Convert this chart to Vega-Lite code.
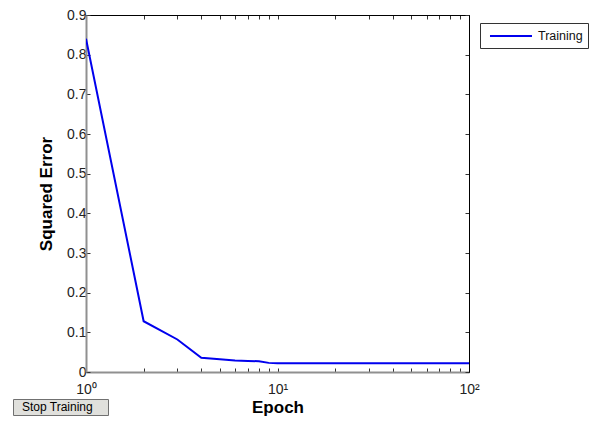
{
  "$schema": "https://vega.github.io/schema/vega-lite/v6.json",
  "autosize": "none",
  "width": 383,
  "height": 357,
  "padding": {"left": 86, "top": 15, "right": 122, "bottom": 49},
  "background": "white",
  "config": {
    "font": "Liberation Sans",
    "view": {"stroke": "black", "strokeWidth": 1}
  },
  "data": {
    "values": [
      {"epoch": 1, "error": 0.84},
      {"epoch": 2, "error": 0.128},
      {"epoch": 3, "error": 0.082},
      {"epoch": 4, "error": 0.036},
      {"epoch": 5, "error": 0.032},
      {"epoch": 6, "error": 0.029},
      {"epoch": 7, "error": 0.028},
      {"epoch": 8, "error": 0.027},
      {"epoch": 9, "error": 0.023},
      {"epoch": 10, "error": 0.022},
      {"epoch": 20, "error": 0.022},
      {"epoch": 50, "error": 0.022},
      {"epoch": 100, "error": 0.022}
    ]
  },
  "layer": [
    {
      "mark": {"type": "line", "strokeWidth": 2, "clip": true},
      "encoding": {
        "x": {
          "field": "epoch",
          "type": "quantitative",
          "scale": {"type": "log", "domain": [1, 100], "nice": false},
          "axis": {
            "orient": "bottom",
            "values": [1, 2, 3, 4, 5, 6, 7, 8, 9, 10, 20, 30, 40, 50, 60, 70, 80, 90, 100],
            "labelExpr": "datum.value == 1 ? '10⁰' : datum.value == 10 ? '10¹' : datum.value == 100 ? '10²' : ''",
            "labelFontSize": 14,
            "labelColor": "#222222",
            "labelPadding": 14,
            "labelFlush": false,
            "tickSize": -4,
            "tickColor": "#333333",
            "domainColor": "#909090",
            "domainWidth": 2,
            "grid": false,
            "title": "Epoch",
            "titleFontSize": 17,
            "titleFontWeight": "bold",
            "titleColor": "black",
            "titlePadding": 3
          }
        },
        "y": {
          "field": "error",
          "type": "quantitative",
          "scale": {"domain": [0, 0.9], "nice": false, "zero": false},
          "axis": {
            "orient": "left",
            "values": [0, 0.1, 0.2, 0.3, 0.4, 0.5, 0.6, 0.7, 0.8, 0.9],
            "labelExpr": "datum.value == 0 ? '0' : format(datum.value, '.1f')",
            "labelFontSize": 14,
            "labelColor": "#222222",
            "labelPadding": 4,
            "labelFlush": false,
            "tickSize": -4,
            "tickColor": "#333333",
            "domainColor": "#909090",
            "domainWidth": 2,
            "grid": false,
            "title": "Squared Error",
            "titleFontSize": 17,
            "titleFontWeight": "bold",
            "titleColor": "black",
            "titlePadding": 11
          }
        },
        "color": {
          "datum": "Training",
          "scale": {"range": ["#0000ee"]},
          "legend": {
            "orient": "none",
            "legendX": 394,
            "legendY": 8,
            "title": null,
            "symbolType": "M-0.43,0H5.57",
            "symbolSize": 196,
            "symbolStrokeWidth": 2,
            "labelFontSize": 12.5,
            "labelColor": "#111111",
            "labelOffset": 37,
            "padding": 5,
            "fillColor": "white",
            "strokeColor": "#333333"
          }
        }
      }
    },
    {
      "mark": {"type": "point", "opacity": 0},
      "encoding": {
        "x": {
          "field": "epoch",
          "type": "quantitative",
          "axis": {
            "orient": "top",
            "values": [1, 2, 3, 4, 5, 6, 7, 8, 9, 10, 20, 30, 40, 50, 60, 70, 80, 90, 100],
            "labels": false,
            "tickSize": -4,
            "tickColor": "#333333",
            "domainColor": "black",
            "grid": false,
            "title": null
          }
        },
        "y": {
          "field": "error",
          "type": "quantitative",
          "axis": {
            "orient": "right",
            "values": [0, 0.1, 0.2, 0.3, 0.4, 0.5, 0.6, 0.7, 0.8, 0.9],
            "labels": false,
            "tickSize": -4,
            "tickColor": "#333333",
            "domainColor": "black",
            "grid": false,
            "title": null
          }
        },
        "shape": {
          "datum": "Stop Training",
          "legend": {
            "orient": "none",
            "legendX": -73,
            "legendY": 384,
            "title": null,
            "symbolSize": 0,
            "symbolOpacity": 0,
            "symbolStrokeWidth": 0,
            "labelExpr": "'Stop Training\u00a0\u2800'",
            "labelFontSize": 12,
            "labelColor": "black",
            "labelOffset": -5,
            "padding": 2,
            "fillColor": "#e0e0dc",
            "strokeColor": "#707070"
          }
        }
      }
    }
  ],
  "resolve": {"axis": {"x": "independent", "y": "independent"}}
}
